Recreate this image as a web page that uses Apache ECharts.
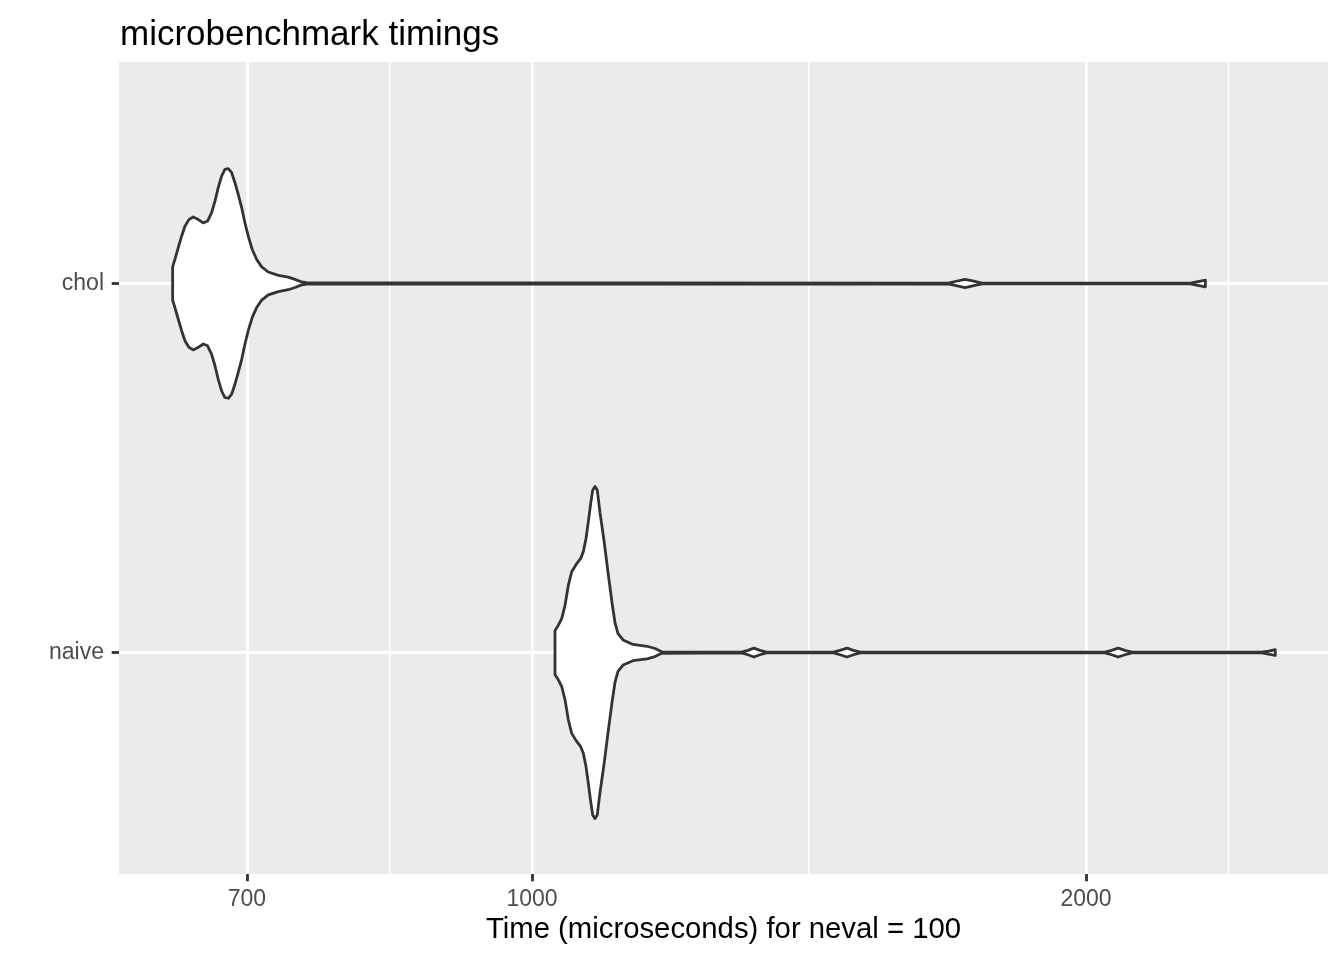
<!DOCTYPE html>
<html>
<head>
<meta charset="utf-8">
<script src="https://cdn.jsdelivr.net/npm/echarts@6/dist/echarts.min.js"></script>
<style>
html,body{margin:0;padding:0;background:#ffffff;}
#main{width:1344px;height:960px;}
</style>
</head>
<body>
<div id="main"></div>
<script>
// ---- data ----
const categories = ['naive', 'chol'];          // y positions 1, 2
const xTickValues = [700, 1000, 2000];          // major breaks (log10 scale)
const xMinorValues = [837, 1414, 2390];         // minor breaks
const xRange = [596.5, 2707];                   // visible time range

// violin outlines: time (microseconds) and half-width (in category units)
const cholTime = [637.9, 639.7, 642.4, 645.1, 647.8, 651.0, 654.5, 658.7, 662.8, 666.4, 669.8, 672.6, 675.3, 678.2, 681.0, 683.9, 686.8, 689.6, 692.5, 695.5, 698.3, 701.2, 704.7, 708.6, 713.1, 719.0, 728.1, 737.2, 743.4, 749.7, 754.4,
                  1683, 1700, 1719, 1738, 1756, 2279, 2300, 2322];
const cholHalfWidth = [0.045, 0.065, 0.097, 0.128, 0.155, 0.173, 0.180, 0.173, 0.164, 0.169, 0.192, 0.223, 0.259, 0.291, 0.309, 0.311, 0.300, 0.273, 0.241, 0.205, 0.164, 0.128, 0.092, 0.065, 0.045, 0.031, 0.022, 0.017, 0.011, 0.004, 0.002,
                       0.001, 0.006, 0.011, 0.006, 0.001, 0.001, 0.005, 0.009];

const naiveTime = [1029.2, 1033.5, 1037.9, 1042.2, 1046.5, 1050.9, 1056.6, 1062.8, 1066.3, 1069.9, 1073.0, 1076.2, 1078.9, 1082.0, 1085.1, 1088.8, 1094.3, 1099.8, 1105.3, 1109.4, 1113.6, 1120.6, 1134.7, 1154.8, 1166.4, 1176.2,
                   1300, 1310, 1320, 1330, 1341, 1458, 1470, 1483, 1495, 1508, 2048, 2065, 2082, 2100, 2118, 2492, 2513, 2534];
const naiveHalfWidth = [0.060, 0.074, 0.092, 0.128, 0.182, 0.219, 0.238, 0.255, 0.273, 0.309, 0.354, 0.404, 0.440, 0.450, 0.440, 0.379, 0.303, 0.217, 0.135, 0.081, 0.051, 0.034, 0.022, 0.017, 0.011, 0.002,
                        0.001, 0.006, 0.012, 0.006, 0.001, 0.001, 0.006, 0.012, 0.006, 0.001, 0.001, 0.006, 0.012, 0.006, 0.001, 0.001, 0.004, 0.008];

// ---- chart ----
const FONT = "'Liberation Sans', Arial, Helvetica, sans-serif";
const lg = v => Math.log10(v);
const chart = echarts.init(document.getElementById('main'), null, {renderer: 'canvas'});

function violinRenderer(times, halfWidths, pos) {
  return function (params, api) {
    const top = [], bottom = [];
    for (let i = 0; i < times.length; i++) {
      const lx = lg(times[i]);
      top.push(api.coord([lx, pos + halfWidths[i]]));
      bottom.push(api.coord([lx, pos - halfWidths[i]]));
    }
    return {
      type: 'polygon',
      shape: {points: top.concat(bottom.reverse())},
      style: {fill: '#ffffff', stroke: '#333333', lineWidth: 2.8, lineJoin: 'round'}
    };
  };
}

const option = {
  animation: false,
  backgroundColor: '#ffffff',
  title: {
    text: 'microbenchmark timings',
    left: 115, top: 13,
    textStyle: {fontFamily: FONT, fontSize: 35, fontWeight: 'normal', color: '#000000', lineHeight: 35}
  },
  grid: {
    left: 119, right: 16, top: 62, bottom: 86,
    show: true, backgroundColor: '#EBEBEB', borderWidth: 0,
    containLabel: false, outerBoundsMode: 'none'
  },
  xAxis: {
    type: 'value',
    min: lg(xRange[0]), max: lg(xRange[1]),
    name: 'Time (microseconds) for neval = 100',
    nameLocation: 'middle', nameGap: 41,
    nameTextStyle: {fontFamily: FONT, fontSize: 29.3, color: '#000000', lineHeight: 29},
    axisLine: {show: false},
    axisTick: {show: true, customValues: xTickValues.map(lg), length: 7.3, lineStyle: {color: '#333333', width: 2.8}},
    axisLabel: {show: true, customValues: xTickValues.map(lg), margin: 14,
      formatter: v => String(Math.round(Math.pow(10, v))),
      fontFamily: FONT, fontSize: 23, color: '#4D4D4D', lineHeight: 23},
    splitLine: {show: true, lineStyle: {color: '#ffffff', width: 2.8}},
    minorTick: {show: false}, minorSplitLine: {show: false}
  },
  yAxis: {
    type: 'value', min: 0.4, max: 2.6,
    axisLine: {show: false},
    axisTick: {show: true, customValues: [1, 2], length: 7.3, lineStyle: {color: '#333333', width: 2.8}},
    axisLabel: {show: true, customValues: [1, 2], margin: 15,
      formatter: v => categories[Math.round(v) - 1],
      fontFamily: FONT, fontSize: 23, color: '#4D4D4D'},
    splitLine: {show: true, lineStyle: {color: '#ffffff', width: 2.8}}
  },
  series: [
    {
      type: 'custom', name: 'minor grid', z: 1, silent: true,
      coordinateSystem: 'cartesian2d',
      data: xMinorValues.map(v => [lg(v), 1.5]),
      encode: {x: 0, y: 1},
      renderItem: function (params, api) {
        const x = api.value(0);
        const p1 = api.coord([x, 0.4]);
        const p2 = api.coord([x, 2.6]);
        return {type: 'line', shape: {x1: p1[0], y1: p1[1], x2: p2[0], y2: p2[1]},
          style: {stroke: '#ffffff', lineWidth: 1.4}};
      }
    },
    {
      type: 'custom', name: 'chol', z: 3, silent: true,
      coordinateSystem: 'cartesian2d',
      data: [[lg(cholTime[0]), 2]],
      encode: {x: 0, y: 1},
      renderItem: violinRenderer(cholTime, cholHalfWidth, 2)
    },
    {
      type: 'custom', name: 'naive', z: 3, silent: true,
      coordinateSystem: 'cartesian2d',
      data: [[lg(naiveTime[0]), 1]],
      encode: {x: 0, y: 1},
      renderItem: violinRenderer(naiveTime, naiveHalfWidth, 1)
    }
  ]
};
chart.setOption(option);
</script>
</body>
</html>
